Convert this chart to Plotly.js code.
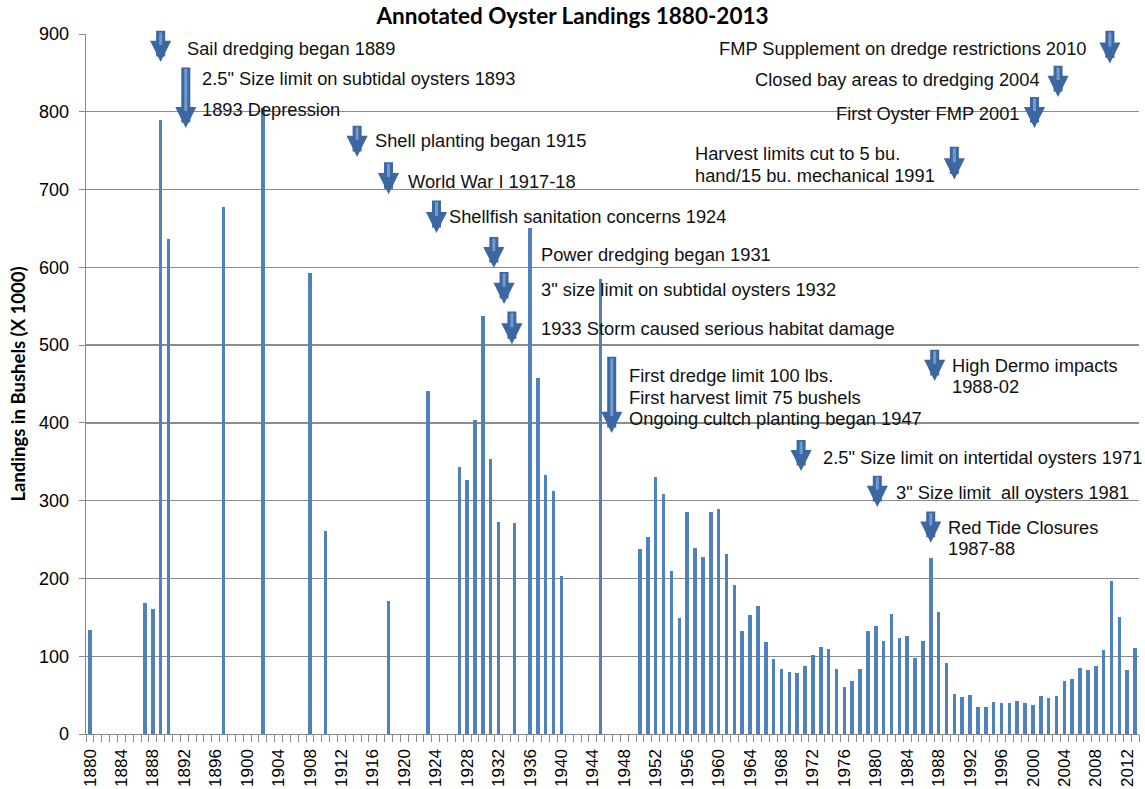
<!DOCTYPE html>
<html>
<head>
<meta charset="utf-8">
<script src="https://cdn.plot.ly/plotly-3.0.1.min.js"></script>
<style>
  html, body { margin: 0; padding: 0; background: #fff; }
  #chart { width: 1145px; height: 789px; }
</style>
</head>
<body>
<div id="chart"></div>
<script>
// Years with reported landings (gaps in the record are simply absent)
const years = [
    1880, 1887, 1888, 1889, 1890, 1897, 1902, 1908, 1910, 1918,
    1923, 1927, 1928, 1929, 1930, 1931, 1932, 1934, 1936, 1937,
    1938, 1939, 1940, 1945,
    1950, 1951, 1952, 1953, 1954, 1955, 1956, 1957, 1958, 1959,
    1960, 1961, 1962, 1963, 1964, 1965, 1966, 1967, 1968, 1969,
    1970, 1971, 1972, 1973, 1974, 1975, 1976, 1977, 1978, 1979,
    1980, 1981, 1982, 1983, 1984, 1985, 1986, 1987, 1988, 1989,
    1990, 1991, 1992, 1993, 1994, 1995, 1996, 1997, 1998, 1999,
    2000, 2001, 2002, 2003, 2004, 2005, 2006, 2007, 2008, 2009,
    2010, 2011, 2012, 2013
];

// Landings in bushels (x 1000)
const landings = [
    134, 168, 161, 790, 637, 677, 805, 593, 261, 171,
    441, 343, 327, 404, 537, 353, 273, 271, 651, 458,
    333, 313, 203, 585,
    238, 253, 331, 309, 210, 149, 285, 239, 228, 286,
    289, 232, 192, 133, 153, 164, 118, 97, 84, 80,
    79, 88, 102, 112, 109, 84, 61, 68, 83, 132,
    139, 119, 154, 123, 126, 98, 120, 226, 157, 91,
    51, 48, 50, 35, 35, 41, 40, 40, 42, 40,
    37, 49, 46, 49, 68, 71, 85, 82, 88, 108,
    197, 151, 82, 111
];

// x tick labels (every fourth year)
const tickLabels = ['1880', '1884', '1888', '1892', '1896', '1900', '1904', '1908', '1912',
                    '1916', '1920', '1924', '1928', '1932', '1936', '1940', '1944', '1948',
                    '1952', '1956', '1960', '1964', '1968', '1972', '1976', '1980', '1984',
                    '1988', '1992', '1996', '2000', '2004', '2008', '2012'];

// Block arrows: year position, tail value, tip value
const arrowYear = [1889, 1892.2, 1914, 1918, 1924.1, 1931.4, 1932.7, 1933.7, 1946.4,
                   1970.5, 1980.2, 1987, 1987.5, 1990, 2000.2, 2003.2, 2009.8];
const arrowTail = [906, 859, 784, 737, 688, 641, 596, 545, 487,
                   380, 334, 288, 496, 757, 821, 861, 906];
const arrowTip  = [864, 779, 742, 694, 644, 599, 553, 501, 387,
                   338, 292, 246, 454, 713, 779, 819, 862];

// Event labels
const labelText = [
    'Sail dredging began 1889',
    '2.5" Size limit on subtidal oysters 1893',
    '1893 Depression',
    'Shell planting began 1915',
    'World War I 1917-18',
    'Shellfish sanitation concerns 1924',
    'Power dredging began 1931',
    '3" size limit on subtidal oysters 1932',
    '1933 Storm caused serious habitat damage',
    'First dredge limit 100 lbs.',
    'First harvest limit 75 bushels',
    'Ongoing cultch planting began 1947',
    '2.5" Size limit on intertidal oysters 1971',
    '3" Size limit  all oysters 1981',
    'Red Tide Closures',
    '1987-88',
    'High Dermo impacts',
    '1988-02',
    'Harvest limits cut to 5 bu.',
    'hand/15 bu. mechanical 1991',
    'First Oyster FMP 2001',
    'Closed bay areas to dredging 2004',
    'FMP Supplement on dredge restrictions 2010'
];
const labelYear = [1892.1, 1894.0, 1894.0, 1916.0, 1920.2, 1925.5, 1937.1, 1937.1, 1937.1,
                   1948.3, 1948.3, 1948.3, 1973.0, 1982.3, 1988.9, 1988.9, 1989.5, 1989.5,
                   1956.7, 1956.7, 1998.6, 2001.1, 2007.1];
const labelValue = [882, 843, 803, 763, 711, 665, 617, 571, 522,
                    461, 433, 406, 355, 311, 265, 239, 474, 447,
                    746, 718, 798, 842, 882];
const labelAnchor = ['left', 'left', 'left', 'left', 'left', 'left', 'left', 'left', 'left',
                     'left', 'left', 'left', 'left', 'left', 'left', 'left', 'left', 'left',
                     'left', 'left', 'right', 'right', 'right'];

// Tick marks sit between years (Excel style); labels every fourth year
let tickVals = [];
let tickText = [];
for (let yr = 1880; yr <= 2014; yr++) {
    tickVals.push(yr - 0.5);
    tickText.push(tickLabels.includes(String(yr)) ? String(yr) : '');
}

// Building annotations
let annotations = [];
for (let i = 0; i < arrowYear.length; i++) {
    // dark block arrow
    annotations.push({
        x: arrowYear[i], y: arrowTip[i], xref: 'x', yref: 'y',
        ax: arrowYear[i], ay: arrowTail[i], axref: 'x', ayref: 'y',
        text: '', showarrow: true, arrowhead: 2, arrowsize: 0.47,
        arrowwidth: 9, arrowcolor: '#3d67a0', standoff: 0
    });
    // lighter stripe down the shaft
    annotations.push({
        x: arrowYear[i], y: arrowTip[i] + 22, xref: 'x', yref: 'y',
        ax: arrowYear[i], ay: arrowTail[i] - 2, axref: 'x', ayref: 'y',
        text: '', showarrow: true, arrowhead: 0,
        arrowwidth: 3, arrowcolor: '#6f9bd2', standoff: 0
    });
}
for (let i = 0; i < labelText.length; i++) {
    annotations.push({
        x: labelYear[i], y: labelValue[i], xref: 'x', yref: 'y',
        text: labelText[i], showarrow: false,
        xanchor: labelAnchor[i], yanchor: 'middle',
        font: {family: 'Liberation Sans, Arial, sans-serif', size: 18.3, color: '#111'}
    });
}

let barTrace = {
    x: years,
    y: landings,
    type: 'bar',
    width: 0.45,
    marker: {color: '#4f81bd', line: {width: 0}},
    hoverinfo: 'x+y'
};

let layout = {
    width: 1145,
    height: 789,
    margin: {l: 86, r: 6, t: 34, b: 55},
    paper_bgcolor: '#ffffff',
    plot_bgcolor: '#ffffff',
    showlegend: false,
    bargap: 0,
    title: {
        text: 'Annotated Oyster Landings 1880-2013',
        font: {family: 'Lato, Open Sans, sans-serif', size: 22.5, color: '#000', weight: 'bold'},
        x: 0.5, xref: 'container', xanchor: 'center',
        y: 0.979, yref: 'container', yanchor: 'middle'
    },
    xaxis: {
        range: [1879.5, 2013.5],
        tickmode: 'array',
        tickvals: tickVals,
        ticktext: tickText,
        ticks: 'outside',
        ticklen: 7,
        tickcolor: '#888888',
        tickwidth: 1,
        tickangle: -90,
        ticklabelshift: 4,
        tickfont: {family: 'Liberation Sans, Arial, sans-serif', size: 17, color: '#000'},
        showgrid: false,
        zeroline: false,
        showline: true,
        linecolor: '#888888',
        linewidth: 1.3
    },
    yaxis: {
        range: [0, 900],
        tickmode: 'linear',
        tick0: 0,
        dtick: 100,
        ticks: 'outside',
        ticklen: 6,
        tickcolor: '#888888',
        ticklabelstandoff: 6,
        tickfont: {family: 'Liberation Sans, Arial, sans-serif', size: 18, color: '#000'},
        showgrid: true,
        gridcolor: '#8c8c8c',
        gridwidth: 1.3,
        zeroline: false,
        showline: true,
        linecolor: '#888888',
        linewidth: 1.3,
        title: {
            text: 'Landings in Bushels (X 1000)',
            font: {family: 'Lato, Open Sans, sans-serif', size: 18.5, color: '#000', weight: 'bold'},
            standoff: 8
        }
    },
    annotations: annotations
};

Plotly.newPlot('chart', [barTrace], layout, {staticPlot: true});
</script>
</body>
</html>
